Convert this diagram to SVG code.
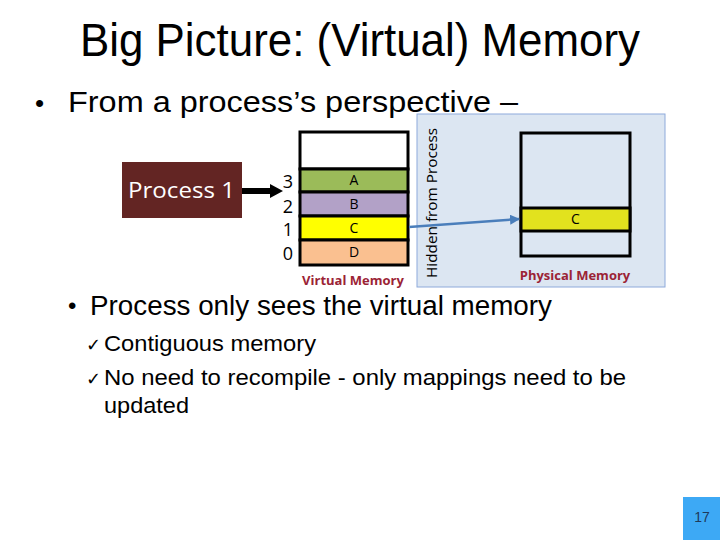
<svg xmlns="http://www.w3.org/2000/svg" width="720" height="540" viewBox="0 0 720 540">
<style>
.sans{font-family:"Liberation Sans",Arial,sans-serif;fill:#000}
.cal{font-family:"Open Sans","Liberation Sans",sans-serif}
.cell{stroke:#000;stroke-width:3}
.lbl{font-family:"Open Sans","Liberation Sans",sans-serif;font-size:14px;text-anchor:middle;fill:#000}
.num{font-family:"Open Sans","Liberation Sans",sans-serif;font-size:18px;text-anchor:middle;fill:#000}
.memlbl{font-family:"Open Sans","Liberation Sans",sans-serif;font-weight:bold;font-size:13px;text-anchor:middle;fill:#9B2335}
</style>
<defs>
<marker id="bluehead" viewBox="0 0 10 10" refX="9" refY="5" markerWidth="4" markerHeight="4" orient="auto" markerUnits="strokeWidth">
<path d="M0,0 L10,5 L0,10 z" fill="#4A7EBB"/>
</marker>
</defs>
<rect width="720" height="540" fill="#fff"/>
<g id="title">
<text class="sans" x="360" y="56" font-size="47" text-anchor="middle" textLength="560" lengthAdjust="spacingAndGlyphs">Big Picture: (Virtual) Memory</text>
</g>
<g id="bullet1">
<text class="sans" x="35" y="112" font-size="26">•</text>
<text class="sans" x="68" y="112" font-size="29" textLength="450" lengthAdjust="spacingAndGlyphs">From a process’s perspective –</text>
</g>
<g id="hidden-panel">
<rect x="417" y="114" width="248" height="173" fill="#DCE6F2" stroke="#8EAADB" stroke-width="1"/>
<text class="cal" transform="translate(437,203) rotate(-90)" font-size="14" text-anchor="middle" textLength="150" lengthAdjust="spacingAndGlyphs" fill="#000">Hidden from Process</text>
</g>
<g id="process1">
<rect x="122" y="162" width="120" height="56" fill="#632523"/>
<text class="cal" x="181.5" y="198" font-size="22" text-anchor="middle" fill="#fff" textLength="107" lengthAdjust="spacingAndGlyphs">Process 1</text>
</g>
<g id="virtual-memory">
<rect class="cell" x="300" y="132" width="108" height="37" fill="#fff"/>
<rect class="cell" x="300" y="169" width="108" height="23" fill="#9BBB59"/>
<rect class="cell" x="300" y="192" width="108" height="24" fill="#B2A1C7"/>
<rect class="cell" x="300" y="216" width="108" height="24" fill="#FFFF00"/>
<rect class="cell" x="300" y="240" width="108" height="25" fill="#FAC090"/>
<text class="lbl" x="354" y="185">A</text>
<text class="lbl" x="354" y="209">B</text>
<text class="lbl" x="354" y="233">C</text>
<text class="lbl" x="354" y="257">D</text>
<text class="num" x="288" y="188">3</text>
<text class="num" x="288" y="213">2</text>
<text class="num" x="288" y="236">1</text>
<text class="num" x="288" y="260">0</text>
<text class="memlbl" x="353" y="285">Virtual Memory</text>
</g>
<g id="physical-memory">
<rect class="cell" x="521" y="133" width="109" height="123" fill="#DCE6F2"/>
<rect class="cell" x="521" y="208" width="109" height="23" fill="#E2E21E"/>
<text class="lbl" x="575.5" y="224">C</text>
<text class="memlbl" x="575" y="280" font-size="14">Physical Memory</text>
</g>
<g id="connectors">
<path d="M242,191 H270 V184 L283,191 L270,198 V191" fill="#000"/>
<rect x="242" y="188" width="30" height="6" fill="#000"/>
<line x1="409" y1="227" x2="519" y2="219" stroke="#4A7EBB" stroke-width="2.5" marker-end="url(#bluehead)"/>
</g>
<g id="bullets2">
<text class="sans" x="68" y="314" font-size="24">•</text>
<text class="sans" x="90" y="315" font-size="27" textLength="462" lengthAdjust="spacingAndGlyphs">Process only sees the virtual memory</text>
<text class="sans" x="86" y="351" font-size="18">✓</text>
<text class="sans" x="104" y="351" font-size="22" textLength="212" lengthAdjust="spacingAndGlyphs">Contiguous memory</text>
<text class="sans" x="86" y="385" font-size="18">✓</text>
<text class="sans" x="104" y="385" font-size="22" textLength="522" lengthAdjust="spacingAndGlyphs">No need to recompile - only mappings need to be</text>
<text class="sans" x="104" y="413" font-size="22" textLength="85" lengthAdjust="spacingAndGlyphs">updated</text>
</g>
<g id="page-number">
<rect x="683" y="497" width="37" height="43" fill="#3DA9F5"/>
<text class="sans" x="702" y="522" font-size="14" text-anchor="middle" style="fill:#1F3A5A">17</text>
</g>
</svg>
